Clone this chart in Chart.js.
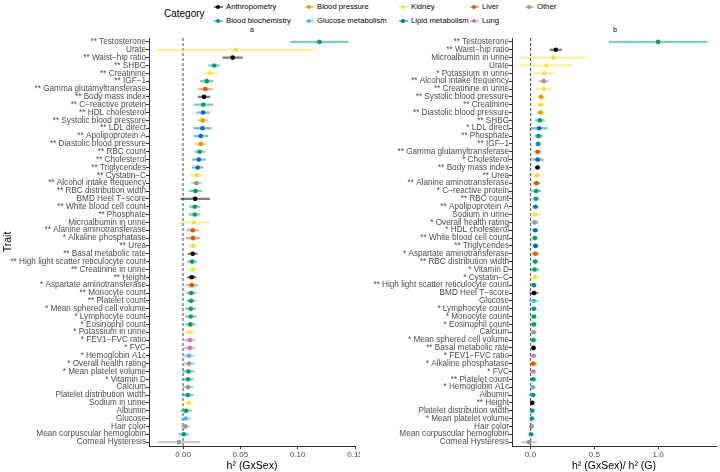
<!DOCTYPE html>
<html>
<head>
<meta charset="utf-8">
<script src="https://cdn.jsdelivr.net/npm/chart.js@4.4.1/dist/chart.umd.min.js"></script>
<style>
  body { margin: 0; background: #fff; font-family: "Liberation Sans", Arial, sans-serif; }
  #wrap { position: relative; width: 720px; height: 472px; overflow: hidden; background: #fff; }
  .pane { position: absolute; top: 0; width: 360px; height: 472px; }
  .lg { position: absolute; font-size: 7.7px; color: #000; white-space: nowrap; line-height: 10px; }
  .mk { position: absolute; width: 9px; height: 10px; }
  .mk .ln { position: absolute; left: 0; top: 4px; width: 9px; height: 1.5px; opacity: 0.5; }
  .mk .dt { position: absolute; left: 2.5px; top: 2.8px; width: 4px; height: 4px; border-radius: 50%; }
  .tag { position: absolute; top: 26px; font-size: 7px; color: #000; }
</style>
</head>
<body>
<div id="wrap">
  <div class="lg" style="left:164px;top:8px;font-size:10px;line-height:12px">Category</div>
  <div id="legend"></div>
  <div class="tag" style="left:250px">a</div>
  <div class="tag" style="left:613px">b</div>
  <div class="pane" style="left:0"><canvas id="chartA" width="360" height="472"></canvas></div>
  <div class="pane" style="left:360px"><canvas id="chartB" width="360" height="472"></canvas></div>
</div>
<script>
// categorias y colores
const categoryKeys = ["Anth", "BB", "BP", "Glu", "Kid", "Lip", "Liv", "Lung", "Oth"];
const categoryNames = ["Anthropometry", "Blood biochemistry", "Blood pressure", "Glucose metabolism",
    "Kidney", "Lipid metabolism", "Liver", "Lung", "Other"];
const categoryColors = ["#000000", "#009E73", "#E69F00", "#56B4E9", "#F0E442", "#0072B2", "#D55E00", "#CC79A7", "#999999"];

// panel a: h2 (GxSex)
const traitsA = ["** Testosterone", "Urate", "** Waist\u2212hip ratio", "** SHBG", "** Creatinine", "** IGF\u22121",
    "** Gamma glutamyltransferase", "** Body mass index", "** C\u2212reactive protein", "** HDL cholesterol",
    "** Systolic blood pressure", "** LDL direct", "** Apolipoprotein A", "** Diastolic blood pressure",
    "** RBC count", "** Cholesterol", "** Triglycerides", "** Cystatin\u2212C", "** Alcohol intake frequency",
    "** RBC distribution width", "BMD Heel T\u2212score", "** White blood cell count", "** Phosphate",
    "Microalbumin in urine", "** Alanine aminotransferase", "* Alkaline phosphatase", "** Urea",
    "** Basal metabolic rate", "** High light scatter reticulocyte count", "** Creatinine in urine", "** Height",
    "* Aspartate aminotransferase", "** Monocyte count", "** Platelet count", "* Mean sphered cell volume",
    "* Lymphocyte count", "* Eosinophil count", "* Potassium in urine", "* FEV1\u2212FVC ratio", "* FVC",
    "* Hemoglobin A1c", "* Overall health rating", "* Mean platelet volume", "* Vitamin D", "Calcium",
    "Platelet distribution width", "Sodium in urine", "Albumin", "Glucose", "Hair color",
    "Mean corpuscular hemoglobin", "Corneal Hysteresis"];
const estA = [0.119, 0.046, 0.0433, 0.0271, 0.0239, 0.0207, 0.0195, 0.0183, 0.0177, 0.0175, 0.0172, 0.0169, 0.0154,
    0.0154, 0.0145, 0.0137, 0.0128, 0.0119, 0.0116, 0.0108, 0.0105, 0.0102, 0.0102, 0.0093, 0.0085, 0.0087, 0.0087,
    0.0084, 0.0079, 0.0084, 0.0076, 0.0076, 0.007, 0.007, 0.0067, 0.0067, 0.0064, 0.0058, 0.0058, 0.0058, 0.0052,
    0.0052, 0.0047, 0.0044, 0.0044, 0.0041, 0.005, 0.0026, 0.0023, 0.002, 0.0006, -0.0035];
const errA = [0.025, 0.068, 0.0087, 0.0048, 0.0057, 0.0054, 0.0058, 0.0051, 0.0083, 0.0055, 0.0044, 0.0076, 0.006,
    0.0047, 0.0042, 0.0057, 0.0047, 0.0055, 0.0044, 0.0054, 0.0125, 0.0045, 0.0047, 0.0131, 0.005, 0.006, 0.0042,
    0.004, 0.0042, 0.0046, 0.0038, 0.005, 0.004, 0.0035, 0.0042, 0.0046, 0.004, 0.0044, 0.0046, 0.0046, 0.0044,
    0.0048, 0.0048, 0.0045, 0.0045, 0.0048, 0.0036, 0.0046, 0.0041, 0.0036, 0.0042, 0.0183];
const catA = ["BB", "Kid", "Anth", "BB", "Kid", "BB", "Liv", "Anth", "BB", "Lip", "BP", "Lip", "Lip", "BP", "BB", "Lip",
    "Lip", "Kid", "Oth", "BB", "Anth", "BB", "BB", "Kid", "Liv", "Liv", "Kid", "Anth", "BB", "Kid", "Anth", "Liv", "BB",
    "BB", "BB", "BB", "BB", "Kid", "Lung", "Lung", "Glu", "Oth", "BB", "BB", "Oth", "BB", "Kid", "BB", "Glu", "Oth",
    "BB", "Oth"];

// panel b: h2 (GxSex) / h2 (G)
const traitsB = ["** Testosterone", "** Waist\u2212hip ratio", "Microalbumin in urine", "Urate", "* Potassium in urine",
    "** Alcohol intake frequency", "** Creatinine in urine", "** Systolic blood pressure", "** Creatinine",
    "** Diastolic blood pressure", "** SHBG", "* LDL direct", "** Phosphate", "** IGF\u22121",
    "** Gamma glutamyltransferase", "* Cholesterol", "** Body mass index", "** Urea", "** Alanine aminotransferase",
    "* C\u2212reactive protein", "** RBC count", "** Apolipoprotein A", "Sodium in urine", "* Overall health rating",
    "* HDL cholesterol", "** White blood cell count", "** Triglycerides", "* Aspartate aminotransferase",
    "** RBC distribution width", "* Vitamin D", "* Cystatin\u2212C", "** High light scatter reticulocyte count",
    "BMD Heel T\u2212score", "Glucose", "* Lymphocyte count", "* Monocyte count", "* Eosinophil count", "Calcium",
    "* Mean sphered cell volume", "** Basal metabolic rate", "* FEV1\u2212FVC ratio", "* Alkaline phosphatase", "* FVC",
    "** Platelet count", "* Hemoglobin A1c", "Albumin", "** Height", "Platelet distribution width",
    "* Mean platelet volume", "Hair color", "Mean corpuscular hemoglobin", "Corneal Hysteresis"];
const estB = [1.0, 0.197, 0.179, 0.123, 0.108, 0.103, 0.103, 0.082, 0.079, 0.079, 0.072, 0.067, 0.062, 0.059, 0.056,
    0.056, 0.054, 0.051, 0.046, 0.044, 0.041, 0.038, 0.036, 0.033, 0.036, 0.033, 0.038, 0.038, 0.036, 0.031, 0.033,
    0.026, 0.026, 0.026, 0.026, 0.026, 0.026, 0.023, 0.023, 0.023, 0.023, 0.021, 0.021, 0.021, 0.018, 0.018, 0.013,
    0.013, 0.010, 0.008, 0.003, -0.013];
const errB = [0.385, 0.045, 0.255, 0.204, 0.076, 0.036, 0.056, 0.024, 0.023, 0.026, 0.036, 0.063, 0.031, 0.019, 0.026,
    0.041, 0.018, 0.027, 0.027, 0.035, 0.021, 0.02, 0.044, 0.027, 0.022, 0.019, 0.022, 0.026, 0.022, 0.032, 0.023,
    0.017, 0.032, 0.036, 0.019, 0.019, 0.019, 0.022, 0.019, 0.014, 0.019, 0.022, 0.018, 0.017, 0.018, 0.024, 0.014,
    0.018, 0.017, 0.014, 0.015, 0.059];
const catB = ["BB", "Anth", "Kid", "Kid", "Kid", "Oth", "Kid", "BP", "Kid", "BP", "BB", "Lip", "BB", "BB", "Liv", "Lip",
    "Anth", "Kid", "Liv", "BB", "BB", "Lip", "Kid", "Oth", "Lip", "BB", "Lip", "Liv", "BB", "BB", "Kid", "BB", "Anth",
    "Glu", "BB", "BB", "BB", "Oth", "BB", "Anth", "Lung", "Liv", "Lung", "BB", "Glu", "BB", "Anth", "BB", "BB", "Oth",
    "BB", "Oth"];

const AXIS_COLOR = "#333333";
const TEXT_GREY = "#4d4d4d";
Chart.defaults.font.family = '"Liberation Sans", Arial, sans-serif';

function colorOf(key, alpha) {
    const hex = categoryColors[categoryKeys.indexOf(key)];
    if (alpha === undefined) return hex;
    const r = parseInt(hex.slice(1, 3), 16), g = parseInt(hex.slice(3, 5), 16), b = parseInt(hex.slice(5, 7), 16);
    return `rgba(${r},${g},${b},${alpha})`;
}

// leyenda en html (dos filas, como ggplot)
const legendCols = [218, 309, 403, 474, 529];
const legendBox = document.getElementById("legend");
categoryKeys.forEach((key, i) => {
    const col = Math.floor(i / 2), row = i % 2;
    const top = row === 0 ? 2 : 16;
    const mk = document.createElement("div");
    mk.className = "mk";
    mk.style.left = (legendCols[col] - 4.5) + "px";
    mk.style.top = top + "px";
    mk.innerHTML = `<div class="ln" style="background:${colorOf(key)}"></div><div class="dt" style="background:${colorOf(key)}"></div>`;
    legendBox.appendChild(mk);
    const txt = document.createElement("div");
    txt.className = "lg";
    txt.style.left = (legendCols[col] + 8) + "px";
    txt.style.top = top + "px";
    txt.textContent = categoryNames[i];
    legendBox.appendChild(txt);
});

// linea discontinua en cero
const zeroLine = {
    id: "zeroLine",
    beforeDatasetsDraw(chart) {
        const ctx = chart.ctx;
        const x = chart.scales.x.getPixelForValue(0);
        const { top, bottom } = chart.chartArea;
        ctx.save();
        ctx.setLineDash([3, 2]);
        ctx.strokeStyle = "#555555";
        ctx.lineWidth = 1.1;
        ctx.beginPath();
        ctx.moveTo(x, top);
        ctx.lineTo(x, bottom);
        ctx.stroke();
        ctx.restore();
    }
};

function makeChart(id, labels, est, err, cats, xMin, xMax, step, decimals, xTitle, yTitle, yWidth, rightPad) {
    const ctx = document.getElementById(id).getContext("2d");
    return new Chart(ctx, {
        type: "bar",
        data: {
            labels: labels,
            datasets: [
                {
                    type: "line",
                    indexAxis: "y",
                    data: est,
                    showLine: false,
                    pointRadius: 2.3,
                    pointBorderWidth: 0,
                    pointBackgroundColor: cats.map(c => colorOf(c)),
                    order: 1
                },
                {
                    type: "bar",
                    indexAxis: "y",
                    data: est.map((v, i) => [v - err[i], v + err[i]]),
                    backgroundColor: cats.map(c => colorOf(c, 0.5)),
                    barThickness: 1.6,
                    borderWidth: 0,
                    order: 2
                }
            ]
        },
        options: {
            indexAxis: "y",
            responsive: false,
            animation: false,
            devicePixelRatio: 1,
            layout: { padding: { top: 38, right: rightPad, left: 0, bottom: 0 } },
            plugins: { legend: { display: false }, tooltip: { enabled: false } },
            scales: {
                x: {
                    type: "linear",
                    position: "bottom",
                    min: xMin,
                    max: xMax,
                    ticks: {
                        stepSize: step,
                        includeBounds: false,
                        autoSkip: false,
                        maxRotation: 0,
                        padding: 1,
                        color: TEXT_GREY,
                        font: { size: 8 },
                        callback: v => v.toFixed(decimals)
                    },
                    grid: { drawOnChartArea: false, drawTicks: true, tickLength: 3, color: AXIS_COLOR },
                    border: { display: true, color: AXIS_COLOR, width: 1 },
                    title: { display: true, text: xTitle, color: "#000", font: { size: 10.5 }, padding: 0 },
                    afterFit(s) {
                        s.height = 26;
                        s.paddingLeft = 0;
                        s.paddingRight = 0;
                    }
                },
                y: {
                    type: "category",
                    offset: true,
                    ticks: { autoSkip: false, padding: 0, color: TEXT_GREY, font: { size: 8.2 } },
                    grid: { drawOnChartArea: false, drawTicks: true, tickLength: 3, offset: false, color: AXIS_COLOR },
                    border: { display: true, color: AXIS_COLOR, width: 1 },
                    title: { display: !!yTitle, text: yTitle, color: "#000", font: { size: 10.5 }, padding: 2 },
                    afterFit(s) {
                        s.width = yWidth;
                        s.paddingTop = 0;
                        s.paddingBottom = 0;
                    }
                }
            }
        },
        plugins: [zeroLine]
    });
}

makeChart("chartA", traitsA, estA, errA, catA, -0.0297, 0.15, 0.05, 2, "h\u00b2 (GxSex)", "Trait", 149, 5);
makeChart("chartB", traitsB, estB, errB, catB, -0.146, 1.454, 0.5, 1, "h\u00b2 (GxSex)/ h\u00b2 (G)", "", 152, 0);
</script>
</body>
</html>
